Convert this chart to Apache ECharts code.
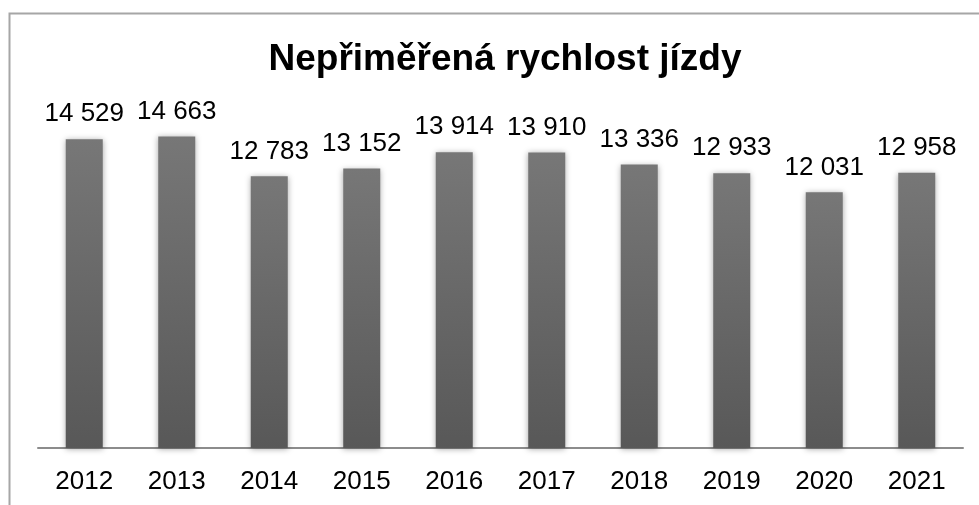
<!DOCTYPE html>
<html>
<head>
<meta charset="utf-8">
<script src="https://cdn.jsdelivr.net/npm/echarts@6/dist/echarts.min.js"></script>
<style>
  html, body { margin: 0; padding: 0; background: #fff; }
  #chart { width: 979px; height: 505px; }
</style>
</head>
<body>
<div id="chart"></div>
<script>
// roky a pocty nehod
const years = ['2012', '2013', '2014', '2015', '2016', '2017', '2018', '2019', '2020', '2021']
const counts = [14529, 14663, 12783, 13152, 13914, 13910, 13336, 12933, 12031, 12958]
const titleText = 'Nepřiměřená rychlost jízdy'

const fontFamily = '"Liberation Sans", Arial, sans-serif'

function fmt (v) {
  return String(v).replace(/\B(?=(\d{3})+(?!\d))/g, ' ')
}

const chart = echarts.init(document.getElementById('chart'))
const option = {
  animation: false,
  title: {
    text: titleText,
    left: 500,
    top: 36,
    textAlign: 'center',
    textStyle: {
      fontFamily: fontFamily,
      fontSize: 37,
      fontWeight: 'bold',
      color: '#000'
    }
  },
  // ramecek vlevo a nahore
  graphic: [{
    type: 'polyline',
    shape: { points: [[9.5, 505], [9.5, 13.5], [979, 13.5]] },
    style: { stroke: '#a6a6a6', lineWidth: 2, fill: null }
  }],
  grid: {
    left: 38,
    right: 16,
    top: 108,
    bottom: 57
  },
  xAxis: {
    type: 'category',
    data: years,
    axisTick: { show: false },
    axisLine: { lineStyle: { color: '#8c8c8c', width: 2 } },
    axisLabel: {
      margin: 21,
      fontFamily: fontFamily,
      fontSize: 26,
      color: '#000'
    }
  },
  yAxis: {
    type: 'value',
    min: 0,
    max: 16000,
    show: false,
    splitLine: { show: false }
  },
  series: [{
    type: 'bar',
    data: counts,
    barWidth: '40%',
    itemStyle: {
      color: new echarts.graphic.LinearGradient(0, 0, 0, 1, [
        { offset: 0, color: '#777777' },
        { offset: 1, color: '#585858' }
      ]),
      shadowBlur: 6,
      shadowColor: 'rgba(0,0,0,0.35)',
      shadowOffsetX: 0,
      shadowOffsetY: 1
    },
    label: {
      show: true,
      position: 'top',
      distance: 12,
      fontFamily: fontFamily,
      fontSize: 26,
      color: '#000',
      formatter: p => fmt(p.value)
    }
  }]
}
chart.setOption(option)
</script>
</body>
</html>
